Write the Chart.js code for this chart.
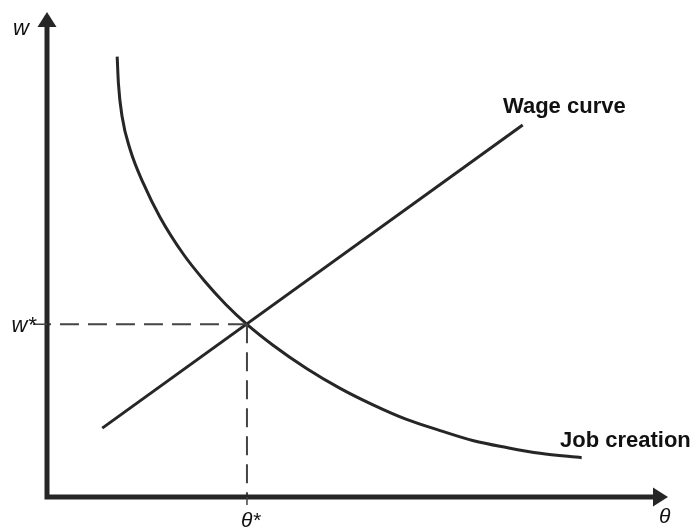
<!DOCTYPE html>
<html>
<head>
<meta charset="utf-8">
<style>
  html, body { margin: 0; padding: 0; background: #fff; }
  #wrap { width: 695px; height: 529px; }
</style>
<script src="https://cdn.jsdelivr.net/npm/chart.js@4.4.0/dist/chart.umd.min.js"></script>
</head>
<body>
<div id="wrap"><canvas id="wageChart" width="695" height="529"></canvas></div>
<script>
// equilibrium
const thetaStar = 3.22;
const wStar = 3.56;

// wage curve (straight line), theta / w
const wageTheta = [0.89, 7.66];
const wageW = [1.42, 7.67];

// job creation curve
const jobTheta = [1.13, 1.15, 1.21, 1.34, 1.55, 1.82, 2.20, 2.54, 2.88, 3.22, 3.64, 4.18, 4.72, 5.25, 5.79, 6.33, 6.87, 7.40, 7.94, 8.61];
const jobW = [9.08, 8.53, 7.84, 7.16, 6.47, 5.77, 5.00, 4.45, 3.97, 3.56, 3.13, 2.65, 2.24, 1.90, 1.60, 1.37, 1.16, 1.02, 0.90, 0.81];

const toPoints = (xs, ys) => xs.map((x, i) => ({ x: x, y: ys[i] }));

const ink = '#262626';
const font = "'Liberation Sans', Arial, Helvetica, sans-serif";

// axes with arrows, ticks and labels
const axesPlugin = {
    id: 'axesPlugin',
    afterDatasetsDraw(chart) {
        const c = chart.ctx;
        const xs = chart.scales.x, ys = chart.scales.y;
        const x0 = xs.getPixelForValue(0), y0 = ys.getPixelForValue(0);
        const xMax = xs.getPixelForValue(10), yMax = ys.getPixelForValue(10);
        const ts = xs.getPixelForValue(thetaStar), ws = ys.getPixelForValue(wStar);

        c.save();
        c.strokeStyle = ink;
        c.fillStyle = ink;
        c.lineWidth = 5;
        c.lineCap = 'butt';
        c.beginPath();
        c.moveTo(x0, y0 + 2.5);
        c.lineTo(x0, yMax + 14);
        c.moveTo(x0 - 2.5, y0);
        c.lineTo(xMax - 14, y0);
        c.stroke();

        // arrow heads
        c.beginPath();
        c.moveTo(x0, yMax);
        c.lineTo(x0 + 9.5, yMax + 15);
        c.lineTo(x0 - 9.5, yMax + 15);
        c.closePath();
        c.fill();
        c.beginPath();
        c.moveTo(xMax, y0);
        c.lineTo(xMax - 15, y0 - 9.5);
        c.lineTo(xMax - 15, y0 + 9.5);
        c.closePath();
        c.fill();

        // small ticks at equilibrium
        c.lineWidth = 1.5;
        c.strokeStyle = '#444';
        c.beginPath();
        c.moveTo(x0 - 14, ws);
        c.lineTo(x0, ws);
        c.moveTo(ts, y0);
        c.lineTo(ts, y0 + 8);
        c.stroke();

        // labels
        c.fillStyle = '#111';
        c.textBaseline = 'alphabetic';
        c.font = 'italic 22px ' + font;
        c.textAlign = 'left';
        c.fillText('w', 13, 35);
        c.textAlign = 'right';
        c.fillText('w*', x0 - 11, ws + 8);
        c.textAlign = 'left';
        c.font = 'italic 21px ' + font;
        c.fillText('θ*', ts - 6, 527);
        c.fillText('θ', xMax - 9, y0 + 26);

        c.font = 'bold 22px ' + font;
        c.fillText('Wage curve', 503, 113);
        c.fillText('Job creation', 560, 447);
        c.restore();
    }
};

const ctx = document.getElementById('wageChart').getContext('2d');

new Chart(ctx, {
    type: 'line',
    data: {
        datasets: [
            {
                label: 'w* guide',
                data: [{ x: thetaStar, y: wStar }, { x: 0, y: wStar }],
                borderColor: '#444',
                borderWidth: 2,
                borderDash: [19, 9],
                pointRadius: 0
            },
            {
                label: 'theta* guide',
                data: [{ x: thetaStar, y: wStar }, { x: thetaStar, y: 0 }],
                borderColor: '#444',
                borderWidth: 2,
                borderDash: [19, 9],
                pointRadius: 0
            },
            {
                label: 'Wage curve',
                data: toPoints(wageTheta, wageW),
                borderColor: ink,
                borderWidth: 3,
                pointRadius: 0,
                tension: 0
            },
            {
                label: 'Job creation',
                data: toPoints(jobTheta, jobW),
                borderColor: ink,
                borderWidth: 3,
                pointRadius: 0,
                cubicInterpolationMode: 'monotone'
            }
        ]
    },
    options: {
        responsive: false,
        animation: false,
        layout: {
            padding: { left: 47, right: 27, top: 12, bottom: 32 }
        },
        scales: {
            x: { type: 'linear', min: 0, max: 10, display: false },
            y: { type: 'linear', min: 0, max: 10, display: false }
        },
        plugins: {
            legend: { display: false },
            tooltip: { enabled: false }
        }
    },
    plugins: [axesPlugin]
});
</script>
</body>
</html>
